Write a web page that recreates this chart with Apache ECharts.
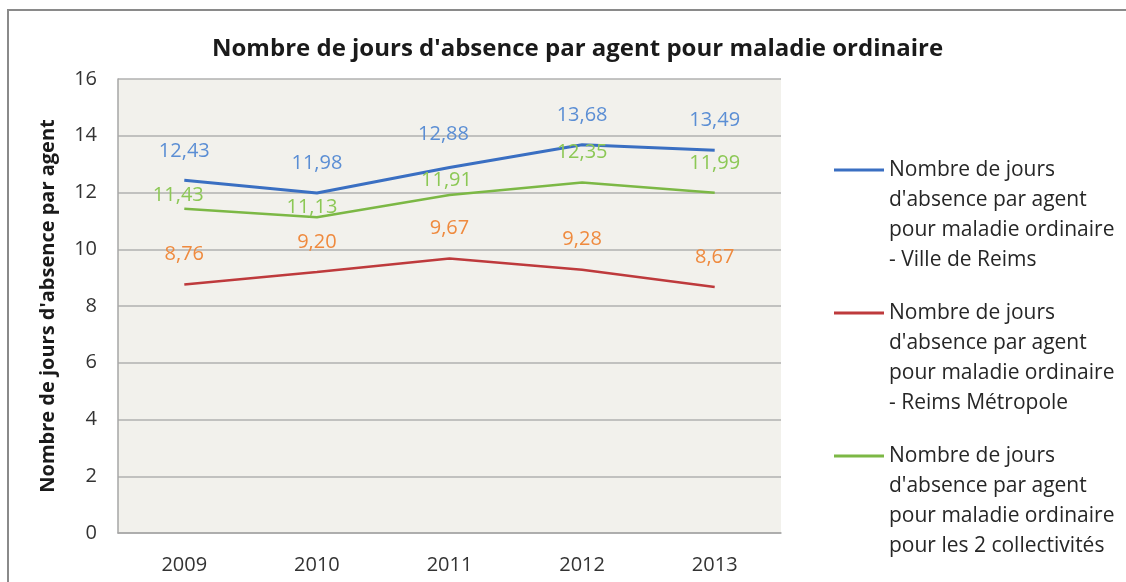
<!DOCTYPE html>
<html>
<head>
<meta charset="utf-8">
<title>Nombre de jours d'absence</title>
<script src="https://cdn.jsdelivr.net/npm/echarts@6/dist/echarts.min.js"></script>
<style>
    html, body { margin: 0; padding: 0; background: #ffffff; }
    #absenceChart { width: 1126px; height: 582px; }
</style>
</head>
<body>
<div id="absenceChart"></div>
<script>
    // categories
    var years = ['2009', '2010', '2011', '2012', '2013'];

    // series values
    var villeReims = [12.43, 11.98, 12.88, 13.68, 13.49];
    var reimsMetropole = [8.76, 9.20, 9.67, 9.28, 8.67];
    var deuxCollectivites = [11.43, 11.13, 11.91, 12.35, 11.99];

    // y axis ticks
    var yTicks = [0, 2, 4, 6, 8, 10, 12, 14, 16];

    var titleText = "Nombre de jours d'absence par agent pour maladie ordinaire";
    var yAxisTitle = "Nombre de jours d'absence par agent";

    var seriesNames = [
        "Nombre de jours d'absence par agent pour maladie ordinaire - Ville de Reims",
        "Nombre de jours d'absence par agent pour maladie ordinaire - Reims Métropole",
        "Nombre de jours d'absence par agent pour maladie ordinaire pour les 2 collectivités"
    ];
    // legend text broken like in the original
    var legendLines = {};
    legendLines[seriesNames[0]] = ["Nombre de jours", "d'absence par agent", "pour maladie ordinaire", "- Ville de Reims"];
    legendLines[seriesNames[1]] = ["Nombre de jours", "d'absence par agent", "pour maladie ordinaire", "- Reims Métropole"];
    legendLines[seriesNames[2]] = ["Nombre de jours", "d'absence par agent", "pour maladie ordinaire", "pour les 2 collectivités"];

    // label nudges (the green labels were moved by hand in the original)
    var greenLabelOffsets = [[-6, -13], [-5, -10], [-3, -15], [0, -30], [0, -29]];
    var blueLabelOffsets = [[0, -29], [0, -30], [-6, -33], [0, -30], [0, -30]];

    var FONT = "'Open Sans', 'DejaVu Sans', sans-serif";

    function fmtValue(v) {
        return v.toFixed(2).replace('.', ',');
    }

    function buildData(values, offsets, defaultOffset) {
        var out = [];
        for (var i = 0; i < values.length; i++) {
            out.push({
                value: values[i],
                label: { offset: offsets ? offsets[i] : defaultOffset }
            });
        }
        return out;
    }

    function makeSeries(name, values, lineColor, lineWidth, labelColor, offsets) {
        return {
            name: name,
            type: 'line',
            smooth: false,
            showSymbol: true,
            symbol: 'circle',
            symbolSize: 0,
            lineStyle: { color: lineColor, width: lineWidth },
            itemStyle: { color: lineColor },
            label: {
                show: true,
                position: 'inside',
                color: labelColor,
                fontFamily: FONT,
                fontSize: 20,
                formatter: function (p) { return fmtValue(p.value); }
            },
            emphasis: { disabled: true },
            data: buildData(values, offsets, [0, -30])
        };
    }

    var chart = echarts.init(document.getElementById('absenceChart'));

    var option = {
        animation: false,
        backgroundColor: '#ffffff',
        title: {
            text: titleText,
            left: 207,
            top: 32,
            textStyle: { fontFamily: FONT, fontSize: 24, fontWeight: 'bold', color: '#1a1a1a' }
        },
        graphic: [{
            type: 'rect',
            shape: { x: 8, y: 10, width: 1300, height: 800 },
            style: { fill: 'none', stroke: '#8a8a8a', lineWidth: 2 },
            silent: true
        }],
        grid: {
            left: 118,
            right: 345,
            top: 79,
            bottom: 49,
            show: true,
            backgroundColor: '#f2f1ec',
            borderWidth: 0
        },
        legend: {
            orient: 'vertical',
            left: 834,
            top: 65,
            padding: 0,
            itemWidth: 50,
            itemHeight: 3,
            itemGap: -67,
            icon: 'rect',
            selectedMode: false,
            data: seriesNames,
            // three empty lines first so the line sample sits on the first text line
            formatter: function (name) { return '\n\n\n' + legendLines[name].join('\n'); },
            textStyle: {
                fontFamily: FONT,
                fontSize: 21,
                color: '#262626',
                lineHeight: 30
            }
        },
        xAxis: {
            type: 'category',
            data: years,
            boundaryGap: true,
            axisLine: { show: true, lineStyle: { color: '#a6a6a6', width: 1.5 } },
            axisTick: { show: false },
            axisLabel: { margin: 22, fontFamily: FONT, fontSize: 20, color: '#333333' }
        },
        yAxis: {
            type: 'value',
            min: yTicks[0],
            max: yTicks[yTicks.length - 1],
            interval: yTicks[1] - yTicks[0],
            name: yAxisTitle,
            nameLocation: 'middle',
            nameGap: 60,
            nameTextStyle: { fontFamily: FONT, fontSize: 20, fontWeight: 'bold', color: '#1a1a1a' },
            axisLine: { show: true, lineStyle: { color: '#a6a6a6', width: 1.5 } },
            axisTick: { show: false },
            axisLabel: { margin: 21, fontFamily: FONT, fontSize: 20, color: '#333333' },
            splitLine: { show: true, lineStyle: { color: '#b0b0b0', width: 1.5 } }
        },
        series: [
            makeSeries(seriesNames[0], villeReims, '#3a6fc2', 3, '#5b8ed4', blueLabelOffsets),
            makeSeries(seriesNames[1], reimsMetropole, '#be3a3c', 2.5, '#ef8a3e', null),
            makeSeries(seriesNames[2], deuxCollectivites, '#7cb845', 2.5, '#8cc855', greenLabelOffsets)
        ]
    };

    chart.setOption(option);
</script>
</body>
</html>
